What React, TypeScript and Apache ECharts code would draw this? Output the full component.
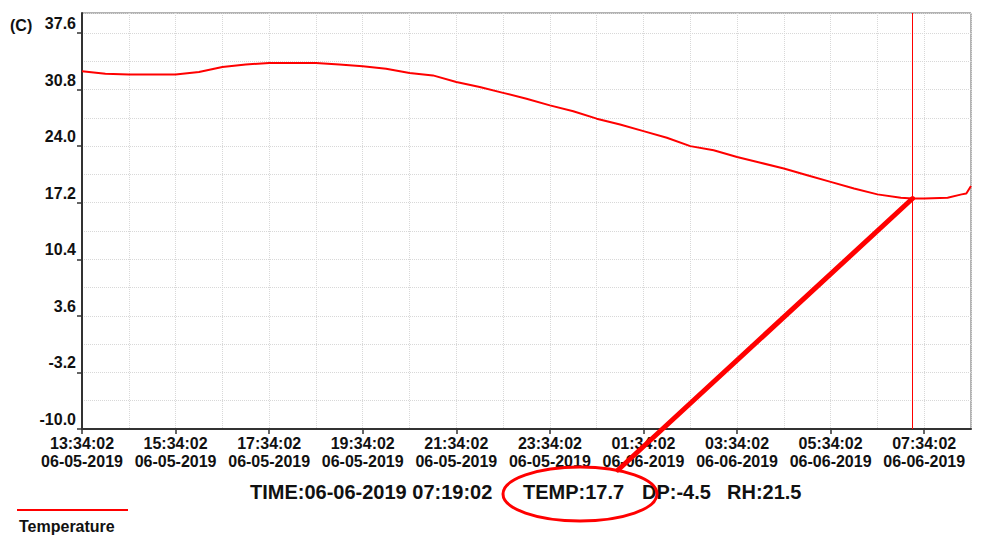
import React, { useEffect, useRef } from "react";
import * as echarts from "echarts";

// ---- data ----
const startTime = "06-05-2019 13:34:02";
const endTime = "06-06-2019 08:34:02";
const times = [
  "06-05-2019 13:34:02", "06-05-2019 14:04:02", "06-05-2019 14:34:02", "06-05-2019 15:04:02",
  "06-05-2019 15:34:02", "06-05-2019 16:04:02", "06-05-2019 16:34:02", "06-05-2019 17:04:02",
  "06-05-2019 17:34:02", "06-05-2019 18:04:02", "06-05-2019 18:34:02", "06-05-2019 19:04:02",
  "06-05-2019 19:34:02", "06-05-2019 20:04:02", "06-05-2019 20:34:02", "06-05-2019 21:04:02",
  "06-05-2019 21:34:02", "06-05-2019 22:04:02", "06-05-2019 22:34:02", "06-05-2019 23:04:02",
  "06-05-2019 23:34:02", "06-06-2019 00:04:02", "06-06-2019 00:34:02", "06-06-2019 01:04:02",
  "06-06-2019 01:34:02", "06-06-2019 02:04:02", "06-06-2019 02:34:02", "06-06-2019 03:04:02",
  "06-06-2019 03:34:02", "06-06-2019 04:04:02", "06-06-2019 04:34:02", "06-06-2019 05:04:02",
  "06-06-2019 05:34:02", "06-06-2019 06:04:02", "06-06-2019 06:34:02", "06-06-2019 07:04:02",
  "06-06-2019 07:19:02", "06-06-2019 07:34:02", "06-06-2019 08:04:02", "06-06-2019 08:22:02",
  "06-06-2019 08:28:02", "06-06-2019 08:34:02",
];
const temps = [
  33.0, 32.7, 32.6, 32.6,
  32.6, 32.9, 33.5, 33.8,
  34.0, 34.0, 34.0, 33.8,
  33.6, 33.3, 32.8, 32.5,
  31.7, 31.1, 30.4, 29.7,
  28.9, 28.2, 27.3, 26.6,
  25.8, 25.0, 24.0, 23.5,
  22.7, 22.0, 21.3, 20.5,
  19.7, 18.9, 18.2, 17.8,
  17.7, 17.7, 17.8, 18.2,
  18.3, 19.2,
];
const cursorTime = "06-06-2019 07:19:02";
const cursorTemp = 17.7;
const cursorDP = -4.5;
const cursorRH = 21.5;
const yMin = -10;
const yMax = 40;
const yStep = 6.8;
const xStepHours = 2;
const unitLabel = "(C)";
const seriesName = "Temperature";

// ---- helpers ----
function parseT(s: string): number {
  const [d, t] = s.split(" ");
  const [mm, dd, yyyy] = d.split("-").map(Number);
  const [h, mi, se] = t.split(":").map(Number);
  return Date.UTC(yyyy, mm - 1, dd, h, mi, se);
}
const t0 = parseT(startTime);
const toHours = (s: string) => (parseT(s) - t0) / 3600000;
const pad = (n: number) => String(n).padStart(2, "0");
function fmtHours(v: number): string {
  const d = new Date(t0 + Math.round(v * 3600000));
  return (
    pad(d.getUTCHours()) + ":" + pad(d.getUTCMinutes()) + ":" + pad(d.getUTCSeconds()) +
    "\n" + pad(d.getUTCMonth() + 1) + "-" + pad(d.getUTCDate()) + "-" + d.getUTCFullYear()
  );
}

const FONT = "'Liberation Sans', Arial, sans-serif";

export default function App() {
  const ref = useRef<HTMLDivElement>(null);
  useEffect(() => {
    if (!ref.current) return;
    const chart = echarts.init(ref.current, undefined, { renderer: "svg" });
    const data = times.map((t, i) => [toHours(t), temps[i]]);
    const cursorX = toHours(cursorTime);
    const gridLine = { show: true, lineStyle: { color: "#d8d8d8", type: "dotted" as const, width: 1 } };
    chart.setOption({
      animation: false,
      backgroundColor: "#ffffff",
      grid: {
        left: 82, right: 29, top: 13, bottom: 111,
        show: true, borderColor: "#666", borderWidth: 1,
      },
      xAxis: {
        type: "value",
        min: 0,
        max: toHours(endTime),
        interval: xStepHours,
        axisLine: { show: true, onZero: false, lineStyle: { color: "#333", width: 2 } },
        axisTick: { show: true, length: 5, lineStyle: { color: "#333", width: 1.5 } },
        axisLabel: {
          formatter: fmtHours,
          showMaxLabel: false,
          color: "#111",
          fontFamily: FONT,
          fontWeight: "bold",
          fontSize: 16,
          lineHeight: 18,
          margin: 5,
        },
        splitLine: gridLine,
        minorTick: { show: false, splitNumber: 2 },
        minorSplitLine: gridLine,
      },
      yAxis: {
        type: "value",
        min: yMin,
        max: yMax,
        interval: yStep,
        axisLine: { show: true, onZero: false, lineStyle: { color: "#333", width: 2 } },
        axisTick: { show: true, length: 5, lineStyle: { color: "#333", width: 1.5 } },
        axisLabel: {
          formatter: (v: number) => v.toFixed(1),
          showMaxLabel: false,
          color: "#111",
          fontFamily: FONT,
          fontWeight: "bold",
          fontSize: 16,
          lineHeight: 15,
          verticalAlign: "bottom",
          padding: [0, 0, 2, 0],
          margin: 6,
        },
        splitLine: gridLine,
        minorTick: { show: false, splitNumber: 2 },
        minorSplitLine: gridLine,
      },
      series: [
        {
          name: seriesName,
          type: "line",
          data,
          showSymbol: false,
          symbol: "none",
          lineStyle: { color: "#ff0000", width: 2 },
          itemStyle: { color: "#ff0000" },
          markLine: {
            silent: true,
            symbol: ["none", "none"],
            label: { show: false },
            lineStyle: { color: "#ff0000", width: 1, type: "solid" },
            data: [{ xAxis: cursorX }],
          },
        },
      ],
    });

    const p = chart.convertToPixel({ gridIndex: 0 }, [cursorX, cursorTemp]) as number[];
    const textStyle = { fill: "#111", font: `bold 20px ${FONT}`, textVerticalAlign: "middle" };
    chart.setOption({
      graphic: [
        { type: "text", id: "unit", left: 10, top: 17, style: { text: unitLabel, fill: "#111", font: `bold 16px ${FONT}` } },
        { type: "text", id: "tTime", x: 250, y: 492, style: { ...textStyle, text: "TIME:" + cursorTime } },
        { type: "text", id: "tTemp", x: 523, y: 492, style: { ...textStyle, text: "TEMP:" + cursorTemp.toFixed(1) } },
        { type: "text", id: "tDp", x: 642, y: 492, style: { ...textStyle, text: "DP:" + cursorDP.toFixed(1) } },
        { type: "text", id: "tRh", x: 727, y: 492, style: { ...textStyle, text: "RH:" + cursorRH.toFixed(1) } },
        {
          type: "line", id: "arrow", z: 100,
          shape: { x1: p[0], y1: p[1], x2: 618, y2: 470 },
          style: { stroke: "#ff0000", lineWidth: 5, lineCap: "round" },
        },
        {
          type: "ellipse", id: "circle", z: 100,
          shape: { cx: 580, cy: 494, rx: 77, ry: 27 },
          style: { fill: "none", stroke: "#ff0000", lineWidth: 3 },
        },
        { type: "line", id: "legLine", shape: { x1: 17, y1: 510, x2: 128, y2: 510 }, style: { stroke: "#ff0000", lineWidth: 2 } },
        { type: "text", id: "legText", x: 19, y: 526, style: { text: seriesName, fill: "#111", font: `bold 16px ${FONT}`, textVerticalAlign: "middle" } },
      ],
    });
    return () => chart.dispose();
  }, []);
  return (
    <div
      ref={ref}
      style={{ position: "absolute", left: 0, top: 0, width: 1000, height: 540, background: "#fff" }}
    />
  );
}
